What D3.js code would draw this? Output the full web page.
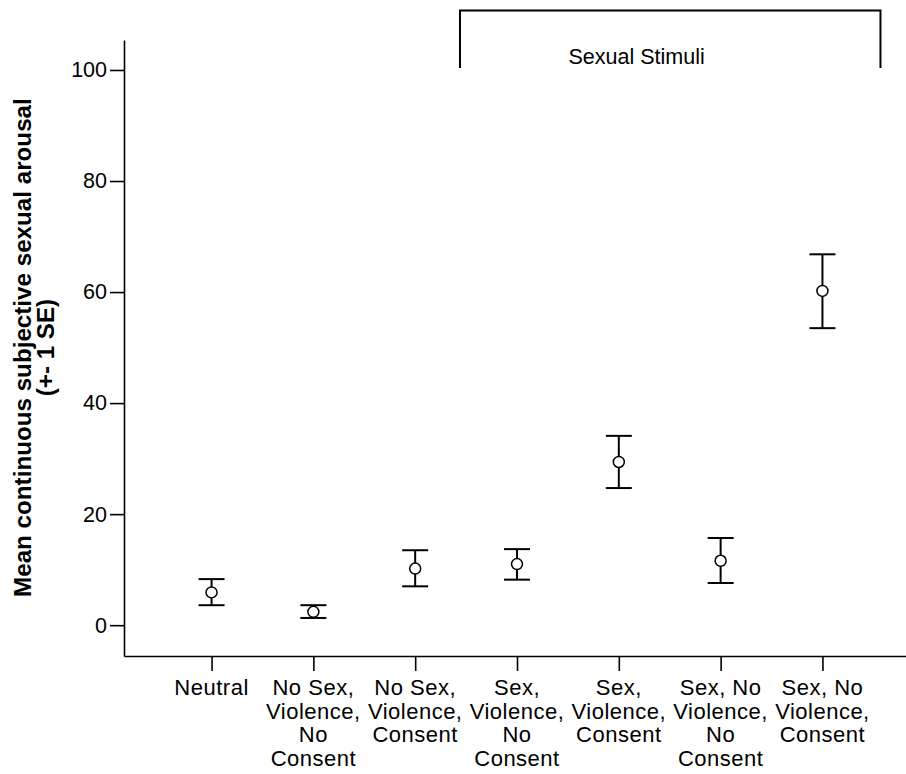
<!DOCTYPE html>
<html>
<head>
<meta charset="utf-8">
<script src="https://cdn.jsdelivr.net/npm/d3@7"></script>
<style>
  html, body { margin: 0; padding: 0; background: #fff; }
  svg { display: block; font-family: Arial, "Liberation Sans", sans-serif; }
</style>
</head>
<body>
<script>
// ---- data ----
const categories = [
  "Neutral",
  "No Sex, Violence, No Consent",
  "No Sex, Violence, Consent",
  "Sex, Violence, No Consent",
  "Sex, Violence, Consent",
  "Sex, No Violence, No Consent",
  "Sex, No Violence, Consent"
];
const categoryLines = [
  ["Neutral"],
  ["No Sex,", "Violence,", "No", "Consent"],
  ["No Sex,", "Violence,", "Consent"],
  ["Sex,", "Violence,", "No", "Consent"],
  ["Sex,", "Violence,", "Consent"],
  ["Sex, No", "Violence,", "No", "Consent"],
  ["Sex, No", "Violence,", "Consent"]
];
const means = [5.9, 2.4, 10.2, 11.0, 29.4, 11.6, 60.2];
const upper = [8.3, 3.6, 13.5, 13.7, 34.1, 15.7, 66.8];
const lower = [3.6, 1.3, 7.0, 8.2, 24.7, 7.6, 53.5];
const yTicks = [0, 20, 40, 60, 80, 100];
const yTitleLines = ["Mean continuous subjective sexual arousal", "(+- 1 SE)"];
const groupLabel = "Sexual Stimuli";
const groupStart = "Sex, Violence, No Consent";
const groupEnd = "Sex, No Violence, Consent";

// ---- chart ----
const W = 906, H = 774;
const svg = d3.select("body").append("svg").attr("width", W).attr("height", H);

const x = d3.scalePoint().domain(categories).range([124, 910]).padding(0.86);
const y = d3.scaleLinear().domain([-5.55, 105.4]).range([656, 40]);

// y axis
const yAxis = svg.append("g").attr("transform", "translate(124,0)")
  .call(d3.axisLeft(y).tickValues(yTicks).tickSize(14).tickSizeOuter(0).tickPadding(3));
yAxis.selectAll("path.domain").attr("stroke", "#000").attr("stroke-width", 1.6);
yAxis.selectAll(".tick line").attr("stroke", "#000").attr("stroke-width", 1.6);
yAxis.selectAll(".tick text").attr("font-size", 21.5).attr("fill", "#000")
  .attr("font-family", "Arial, 'Liberation Sans', sans-serif");

// x axis
const xAxis = svg.append("g").attr("transform", "translate(0,656)")
  .call(d3.axisBottom(x).tickSize(15).tickSizeOuter(0).tickFormat(""));
xAxis.selectAll("path.domain").attr("stroke", "#000").attr("stroke-width", 1.6);
xAxis.selectAll(".tick line").attr("stroke", "#000").attr("stroke-width", 1.6);

// x labels (multi-line)
const lab = svg.append("g")
  .attr("font-size", 22).attr("letter-spacing", 0.5)
  .attr("text-anchor", "middle").attr("fill", "#000");
categories.forEach((c, i) => {
  const t = lab.append("text").attr("x", x(c)).attr("y", 695);
  categoryLines[i].forEach((line, j) => {
    t.append("tspan").attr("x", x(c)).attr("dy", j === 0 ? 0 : 23.5).text(line);
  });
});

// y title
const yt = svg.append("text")
  .attr("transform", `translate(0,${(y(0) + y(100)) / 2}) rotate(-90)`)
  .attr("text-anchor", "middle").attr("font-weight", "bold").attr("font-size", 24.2).attr("fill", "#000");
yTitleLines.forEach((line, j) => {
  yt.append("tspan").attr("x", 0).attr("y", 31 + j * 22.5).text(line);
});

// error bars
const capW = 13;
const g = svg.append("g").attr("stroke", "#000");
categories.forEach((c, i) => {
  const cx = x(c);
  g.append("line").attr("x1", cx).attr("x2", cx).attr("y1", y(upper[i])).attr("y2", y(lower[i])).attr("stroke-width", 2);
  g.append("line").attr("x1", cx - capW).attr("x2", cx + capW).attr("y1", y(upper[i])).attr("y2", y(upper[i])).attr("stroke-width", 2);
  g.append("line").attr("x1", cx - capW).attr("x2", cx + capW).attr("y1", y(lower[i])).attr("y2", y(lower[i])).attr("stroke-width", 2);
  g.append("circle").attr("cx", cx).attr("cy", y(means[i])).attr("r", 5.5)
    .attr("fill", "#fff").attr("stroke-width", 1.5);
});

// group bracket
const step = x.step();
const bx0 = x(groupStart) - 0.56 * step;
const bx1 = x(groupEnd) + 0.57 * step;
svg.append("path")
  .attr("d", `M${bx0},68V10.5H${bx1}V68`)
  .attr("fill", "none").attr("stroke", "#000").attr("stroke-width", 2);
svg.append("text")
  .attr("x", bx0 + 0.42 * (bx1 - bx0)).attr("y", 64)
  .attr("text-anchor", "middle").attr("font-size", 21.5).attr("fill", "#000")
  .text(groupLabel);
</script>
</body>
</html>
